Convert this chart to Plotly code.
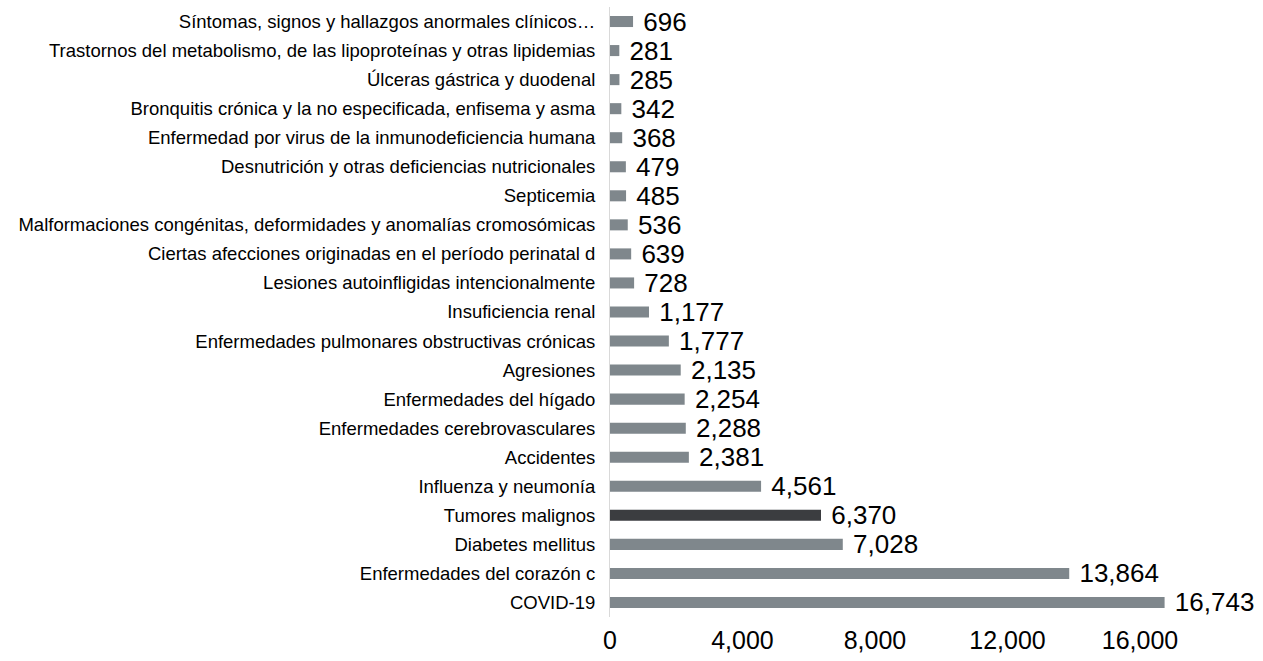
import plotly.graph_objects as go

categories = [
    "Síntomas, signos y hallazgos anormales clínicos…",
    "Trastornos del metabolismo, de las lipoproteínas y otras lipidemias",
    "Úlceras gástrica y duodenal",
    "Bronquitis crónica y la no especificada, enfisema y asma",
    "Enfermedad por virus de la inmunodeficiencia humana",
    "Desnutrición y otras deficiencias nutricionales",
    "Septicemia",
    "Malformaciones congénitas, deformidades y anomalías cromosómicas",
    "Ciertas afecciones originadas en el período perinatal d",
    "Lesiones autoinfligidas intencionalmente",
    "Insuficiencia renal",
    "Enfermedades pulmonares obstructivas crónicas",
    "Agresiones",
    "Enfermedades del hígado",
    "Enfermedades cerebrovasculares",
    "Accidentes",
    "Influenza y neumonía",
    "Tumores malignos",
    "Diabetes mellitus",
    "Enfermedades del corazón c",
    "COVID-19",
]
values = [696, 281, 285, 342, 368, 479, 485, 536, 639, 728, 1177, 1777,
          2135, 2254, 2288, 2381, 4561, 6370, 7028, 13864, 16743]
highlight = "Tumores malignos"
tick_vals = [0, 4000, 8000, 12000, 16000]

colors = ["#3b3d40" if c == highlight else "#7f878c" for c in categories]

fig = go.Figure(go.Bar(
    y=categories,
    x=values,
    orientation="h",
    marker=dict(color=colors, line=dict(width=0)),
    text=[f"\u00a0{v:,}" for v in values],
    textposition="outside",
    constraintext="none",
    textfont=dict(family="Liberation Sans, Arial", size=26, color="#000000"),
    cliponaxis=False,
    width=0.38,
))

fig.update_layout(
    width=1263, height=661,
    margin=dict(l=610, r=21, t=7, b=44),
    paper_bgcolor="white", plot_bgcolor="white",
    showlegend=False,
    font=dict(family="Liberation Sans, Arial", color="#000000"),
    xaxis=dict(
        range=[0, 19080],
        tickvals=tick_vals,
        tickformat=",",
        tickfont=dict(size=25, color="#000000"),
        showgrid=False, zeroline=False, showline=False,
        ticks="", ticklabelstandoff=6,
        automargin=False,
    ),
    yaxis=dict(
        autorange="reversed",
        tickfont=dict(size=18.5, color="#000000"),
        showgrid=False, zeroline=False,
        showline=True, linecolor="#d9d9d9", linewidth=1,
        ticks="", ticklabelstandoff=10,
        automargin=False,
    ),
)

fig.write_html(
    "out.html",
    config={"displayModeBar": False},
    post_script="document.body.style.margin='0';document.body.style.overflow='hidden';",
)
